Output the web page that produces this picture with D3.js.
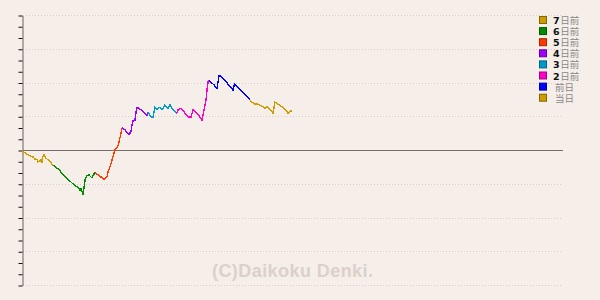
<!DOCTYPE html>
<html>
<head>
<meta charset="utf-8">
<script src="https://cdn.jsdelivr.net/npm/d3@7"></script>
<style>
  body { margin: 0; background: #f6eee8; }
  svg { display: block; }
</style>
</head>
<body>
<div id="chart"></div>
<script>
var width_chart = 600,
    height_chart = 300;

// games played vs coin difference, one array per day
var day7 = [[0,-40],[60,-130],[120,-220],[180,-270],[220,-310],[260,-400],[300,-440],[320,-530],[360,-490],[380,-440],[400,-530],[420,-270],[440,-220],[480,-360],[520,-440],[560,-530],[620,-670]];
var day6 = [[620,-670],[720,-840],[820,-1070],[920,-1290],[1020,-1510],[1100,-1640],[1140,-1690],[1160,-1780],[1180,-1730],[1220,-1950],[1240,-1690],[1260,-1330],[1300,-1150],[1340,-1110],[1380,-1200],[1400,-1240],[1440,-1070],[1460,-980]];
var day5 = [[1460,-980],[1520,-1110],[1580,-1200],[1640,-1290],[1680,-1240],[1700,-1200],[1720,-980],[1760,-750],[1800,-440],[1840,-130],[1860,0],[1900,130],[1920,180],[1940,360],[1980,750],[2000,980]];
var day4 = [[2000,980],[2060,890],[2120,750],[2140,670],[2180,840],[2200,1110],[2220,1290],[2260,1330],[2280,1690],[2300,1860],[2340,1860],[2380,1780],[2420,1690],[2460,1640],[2500,1550],[2520,1690]];
var day3 = [[2520,1690],[2580,1470],[2620,1470],[2660,1910],[2700,1780],[2760,1910],[2800,1780],[2860,2000],[2920,1860],[2960,2000],[3020,1780],[3100,1640]];
var day2 = [[3100,1640],[3120,1780],[3180,1860],[3260,1640],[3320,1470],[3380,1470],[3420,1780],[3500,1640],[3600,1330],[3620,1550],[3680,2220],[3700,2660],[3720,3020],[3740,3110]];
var day1 = [[3740,3110],[3780,3020],[3840,2890],[3900,2750],[3920,3020],[3940,3290],[3960,3330],[4040,3150],[4120,2930],[4200,2750],[4220,2660],[4240,2840],[4260,2930],[4320,2800],[4400,2620],[4480,2440],[4560,2220]];
var day0 = [[4560,2220],[4600,2130],[4660,2040],[4720,2040],[4800,1950],[4860,1860],[4900,1950],[4960,1820],[5020,1640],[5060,2130],[5120,2040],[5180,1950],[5260,1820],[5320,1640],[5360,1730],[5400,1730]];

var legend_nums = ["7", "6", "5", "4", "3", "2", "", ""];
var legend_rest = ["日前", "日前", "日前", "日前", "日前", "日前", "前日", "当日"];
var legend_colors = ["#cc9c00", "#008a00", "#ff3a00", "#9d00ff", "#0099cc", "#ff00c8", "#0000ff", "#cc9c00"];

var days = [day7, day6, day5, day4, day3, day2, day1, day0];

var x_max = 10800, y_max = 6000;

var svg = d3.select("#chart").append("svg")
    .attr("width", width_chart)
    .attr("height", height_chart)
    .style("background", "#f6eee8");

var x = d3.scaleLinear().domain([0, x_max]).range([22, 562]);
var y = d3.scaleLinear().domain([-y_max, y_max]).range([285, 15]);

// watermark
svg.append("text")
    .attr("x", 212)
    .attr("y", 277)
    .attr("textLength", 161)
    .style("font", "bold 18px 'Liberation Sans', Arial, sans-serif")
    .style("fill", "#dcd0cc")
    .text("(C)Daikoku Denki.");

// dotted grid
var grid_vals = d3.range(-y_max, y_max + 1, 1500).filter(function(d) { return d != 0; });
svg.selectAll("line.grid")
    .data(grid_vals)
    .enter().append("line")
    .attr("class", "grid")
    .attr("x1", 23).attr("x2", 562)
    .attr("y1", function(d) { return Math.round(y(d)) + 0.5; })
    .attr("y2", function(d) { return Math.round(y(d)) + 0.5; })
    .style("stroke", "#d6cdca")
    .style("stroke-dasharray", "1,2");

// zero line
svg.append("line")
    .attr("x1", 22).attr("x2", 563)
    .attr("y1", Math.round(y(0)) + 0.5).attr("y2", Math.round(y(0)) + 0.5)
    .style("stroke", "#766a6a");

// left axis with ticks, no labels
var axis = svg.append("g")
    .attr("transform", "translate(22.5,0.5)")
    .call(d3.axisLeft(y)
        .tickValues(d3.range(-y_max, y_max + 1, 500))
        .tickSize(4)
        .tickSizeOuter(0)
        .tickFormat(""));
axis.select(".domain").style("stroke", "#6a6262");
axis.selectAll(".tick line").style("stroke", "#111");

// the difference line, one colour per day
var line = d3.line()
    .x(function(d) { return x(d[0]); })
    .y(function(d) { return y(d[1]); });

svg.selectAll("path.day")
    .data(days)
    .enter().append("path")
    .attr("class", "day")
    .attr("d", line)
    .style("fill", "none")
    .style("stroke", function(d, i) { return legend_colors[i]; })
    .style("stroke-width", 1.4)
    .style("shape-rendering", "crispEdges");

// legend
var leg = svg.selectAll("g.leg")
    .data(legend_rest)
    .enter().append("g")
    .attr("class", "leg")
    .attr("transform", function(d, i) { return "translate(539," + (16 + i * 11.1) + ")"; });

leg.append("rect")
    .attr("width", 7).attr("height", 7)
    .attr("x", 0.5).attr("y", 0.5)
    .style("fill", function(d, i) { return legend_colors[i]; })
    .style("stroke", function(d, i) { return d3.color(legend_colors[i]).darker(1.2); })
    .style("stroke-width", 1);

var leg_text = leg.append("text")
    .attr("x", 14)
    .attr("y", 8)
    .style("font", "9.5px 'DejaVu Sans', 'Noto Sans CJK JP', sans-serif");

leg_text.append("tspan")
    .style("font-weight", "bold")
    .style("fill", "#111")
    .text(function(d, i) { return legend_nums[i]; });

leg_text.append("tspan")
    .style("fill", "#888")
    .attr("dx", function(d, i) { return legend_nums[i] ? 0.5 : 2; })
    .text(function(d) { return d; });
</script>
</body>
</html>
